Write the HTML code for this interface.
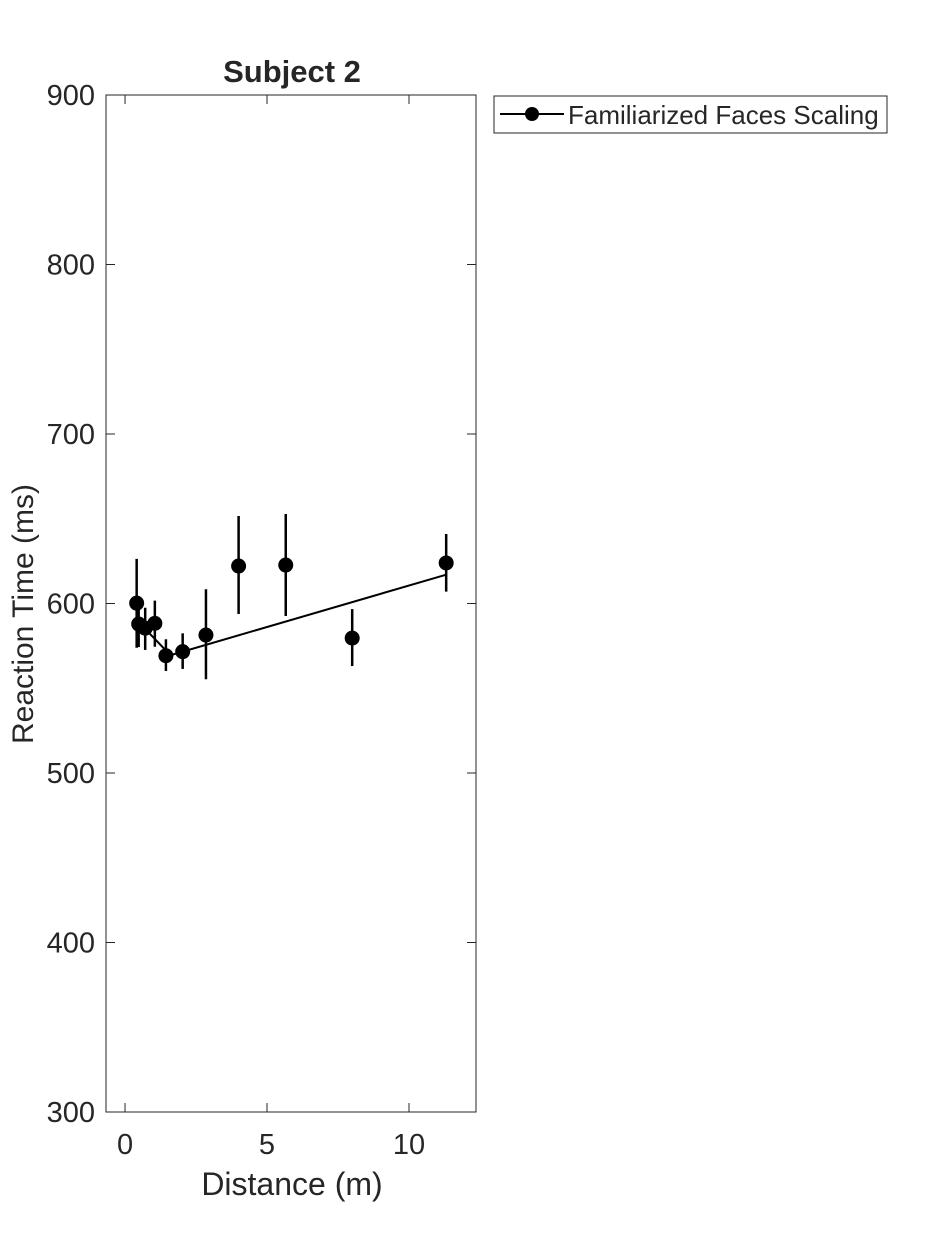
<!DOCTYPE html>
<html><head><meta charset="utf-8"><style>
body{margin:0;background:#fff;}
svg text{font-family:"Liberation Sans",Arial,sans-serif;fill:#262626;}
</style></head><body>
<svg id="chart" width="938" height="1250">
<rect width="938" height="1250" fill="#fff"/>
<g id="plot"></g>
</svg>
<script>
const distances=[0.41,0.48,0.71,1.05,1.44,2.03,2.85,4,5.66,8,11.31];
const rtMeans=[600.2,587.9,585.4,588.3,569.2,571.6,581.4,622.1,622.7,579.6,623.9];
const errUpper=[626.3,597,597.5,601.7,578.9,582.4,608.4,651.6,652.8,596.7,641];
const errLower=[573.9,574.3,572.6,574.5,560.2,561.4,555.3,593.8,592.6,563.1,607];
const fitX=[0.71,1.6,11.31];
const fitY=[585,569.5,617];
const xTicks=[0,5,10];
const yTicks=[300,400,500,600,700,800,900];
const L=106,R=476,T=95,B=1112,xMin=-0.67,xMax=12.36,yMin=300,yMax=900;
const sx=v=>L+(v-xMin)/(xMax-xMin)*(R-L);
const sy=v=>B-(v-yMin)/(yMax-yMin)*(B-T);
const NS="http://www.w3.org/2000/svg";
const g=document.getElementById('plot');
function mk(t,a,p){const e=document.createElementNS(NS,t);for(const k in a)e.setAttribute(k,a[k]);(p||g).appendChild(e);return e;}
const box=mk('rect',{x:L,y:T,width:R-L,height:B-T,fill:'none',stroke:'#262626','stroke-width':1});


xTicks.forEach(v=>{const x=sx(v);
mk('line',{x1:x,x2:x,y1:B,y2:B-9,stroke:'#262626'});mk('line',{x1:x,x2:x,y1:T,y2:T+9,stroke:'#262626'});
const t=mk('text',{x:x,y:B+42,'text-anchor':'middle','font-size':29});t.textContent=v;

});
yTicks.forEach(v=>{const y=sy(v);
mk('line',{x1:L,x2:L+9,y1:y,y2:y,stroke:'#262626'});mk('line',{x1:R,x2:R-9,y1:y,y2:y,stroke:'#262626'});
const t=mk('text',{x:L-11,y:y+10,'text-anchor':'end','font-size':29});t.textContent=v;

});
const fl=mk('polyline',{points:fitX.map((x,i)=>sx(x)+','+sy(fitY[i])).join(' '),fill:'none',stroke:'#000','stroke-width':2});


distances.forEach((d,i)=>{
const e=mk('line',{x1:sx(d),x2:sx(d),y1:sy(errUpper[i]),y2:sy(errLower[i]),stroke:'#000','stroke-width':2.5});


const c=mk('circle',{cx:sx(d),cy:sy(rtMeans[i]),r:7.5,fill:'#000'});

});
</script>
<svg style="position:absolute;left:0;top:0" width="938" height="1250">
<text x="292" y="82" text-anchor="middle" font-size="31" font-weight="bold" fill="#000">Subject 2</text>
<text x="292" y="1195" text-anchor="middle" font-size="32">Distance (m)</text>
<text transform="translate(33,614) rotate(-90)" text-anchor="middle" font-size="30">Reaction Time (ms)</text>
<g>
<rect x="494" y="96" width="393" height="37" fill="#fff" stroke="#262626" stroke-width="1"/>
<line x1="500" x2="564" y1="114" y2="114" stroke="#000" stroke-width="2"/>
<circle cx="532" cy="114" r="7" fill="#000"/>
<text x="568" y="124" font-size="26" fill="#000">Familiarized Faces Scaling</text>
</g>
</svg>
</body></html>
